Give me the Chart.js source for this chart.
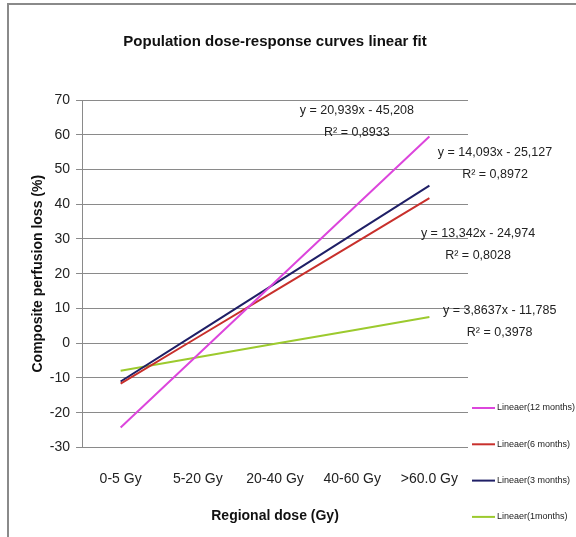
<!DOCTYPE html>
<html>
<head>
<meta charset="utf-8">
<script src="https://cdn.jsdelivr.net/npm/chart.js@4.4.1/dist/chart.umd.min.js"></script>
<style>
  html, body { margin: 0; padding: 0; background: #fff; }
  #wrap { position: relative; width: 576px; height: 537px; }
</style>
</head>
<body>
<div id="wrap"><canvas id="chart"></canvas></div>
<script>
const doseLabels = ['0-5 Gy', '5-20 Gy', '20-40 Gy', '40-60 Gy', '>60.0 Gy'];
const fit12months = [-24.27, -3.33, 17.61, 38.55, 59.49];
const fit6months = [-11.63, 1.71, 15.05, 28.39, 41.74];
const fit3months = [-11.03, 3.06, 17.15, 31.25, 45.34];
const fit1month = [-7.92, -4.06, -0.19, 3.67, 7.53];
const seriesNames = ['Lineaer(12 months)', 'Lineaer(6 months)', 'Lineaer(3 months)', 'Lineaer(1months)'];
const fitEquations = ['y = 20,939x - 45,208', 'y = 14,093x - 25,127', 'y = 13,342x - 24,974', 'y = 3,8637x - 11,785'];
const fitR2 = ['R² = 0,8933', 'R² = 0,8972', 'R² = 0,8028', 'R² = 0,3978'];
const yTicks = { min: -30, max: 70, step: 10 };

// where the equation labels sit (category index, value)
const eqAnchors = [[3.06, 67.1], [4.85, 54.8], [4.63, 31.7], [4.91, 9.5]];

const FONT = '"Liberation Sans", Arial, sans-serif';
const colors = ['#dc46dc', '#c8302c', '#1f1f66', '#9cca2e'];

const frame = {
  id: 'frame',
  beforeDraw(chart) {
    const c = chart.ctx;
    c.save();
    c.strokeStyle = '#8a8a8a';
    c.lineWidth = 2;
    c.beginPath();
    c.moveTo(8, 600);
    c.lineTo(8, 4);
    c.lineTo(600, 4);
    c.stroke();
    c.restore();
  }
};

const equations = {
  id: 'equations',
  afterDatasetsDraw(chart) {
    const c = chart.ctx;
    const xs = chart.scales.x, ys = chart.scales.y;
    c.save();
    c.font = '12.5px ' + FONT;
    c.fillStyle = '#222';
    c.textAlign = 'center';
    c.textBaseline = 'middle';
    fitEquations.forEach((eq, i) => {
      const px = xs.getPixelForValue(eqAnchors[i][0]);
      const py = ys.getPixelForValue(eqAnchors[i][1]);
      c.fillText(eq, px, py);
      c.fillText(fitR2[i], px, py + 22);
    });
    c.restore();
  }
};

// legend stacked at the lower right, outside the plot
const sideLegend = {
  id: 'sideLegend',
  afterDraw(chart) {
    const c = chart.ctx;
    const x0 = chart.chartArea.right + 4;
    c.save();
    c.font = '9px ' + FONT;
    c.fillStyle = '#222';
    c.textBaseline = 'middle';
    chart.data.datasets.forEach((ds, i) => {
      const y = 408 + i * 36.3;
      c.strokeStyle = ds.borderColor;
      c.lineWidth = 2;
      c.beginPath();
      c.moveTo(x0, y);
      c.lineTo(x0 + 23, y);
      c.stroke();
      c.fillText(ds.label, x0 + 25, y);
    });
    c.restore();
  }
};

const series = [fit12months, fit6months, fit3months, fit1month];

new Chart(document.getElementById('chart'), {
  type: 'line',
  data: {
    labels: doseLabels,
    datasets: series.map((d, i) => ({
      label: seriesNames[i],
      data: d,
      borderColor: colors[i],
      backgroundColor: colors[i],
      borderWidth: 2,
      pointRadius: 0,
      tension: 0
    }))
  },
  options: {
    responsive: true,
    maintainAspectRatio: false,
    animation: false,
    layout: { padding: { left: 30, top: 0, right: 108, bottom: 8 } },
    plugins: {
      title: {
        display: true,
        fullSize: false,
        text: 'Population dose-response curves linear fit',
        color: '#111',
        font: { family: FONT, size: 15, weight: 'bold' },
        padding: { top: 33, bottom: 49 }
      },
      legend: { display: false },
      tooltip: { enabled: false }
    },
    scales: {
      x: {
        offset: true,
        grid: { display: false, drawTicks: false },
        border: { display: false },
        ticks: { color: '#222', padding: 23, font: { family: FONT, size: 14 } },
        title: {
          display: true,
          text: 'Regional dose (Gy)',
          color: '#111',
          font: { family: FONT, size: 14, weight: 'bold' },
          padding: { top: -2, bottom: 4 }
        }
      },
      y: {
        min: yTicks.min,
        max: yTicks.max,
        ticks: { stepSize: yTicks.step, color: '#222', padding: 6, font: { family: FONT, size: 14 } },
        grid: { color: '#8a8a8a', lineWidth: 1, tickLength: 6 },
        border: { display: true, color: '#8a8a8a' },
        title: {
          display: true,
          text: 'Composite perfusion loss (%)',
          color: '#111',
          font: { family: FONT, size: 14, weight: 'bold' },
          padding: { top: 0, bottom: -3 }
        }
      }
    }
  },
  plugins: [frame, equations, sideLegend]
});
</script>
</body>
</html>
